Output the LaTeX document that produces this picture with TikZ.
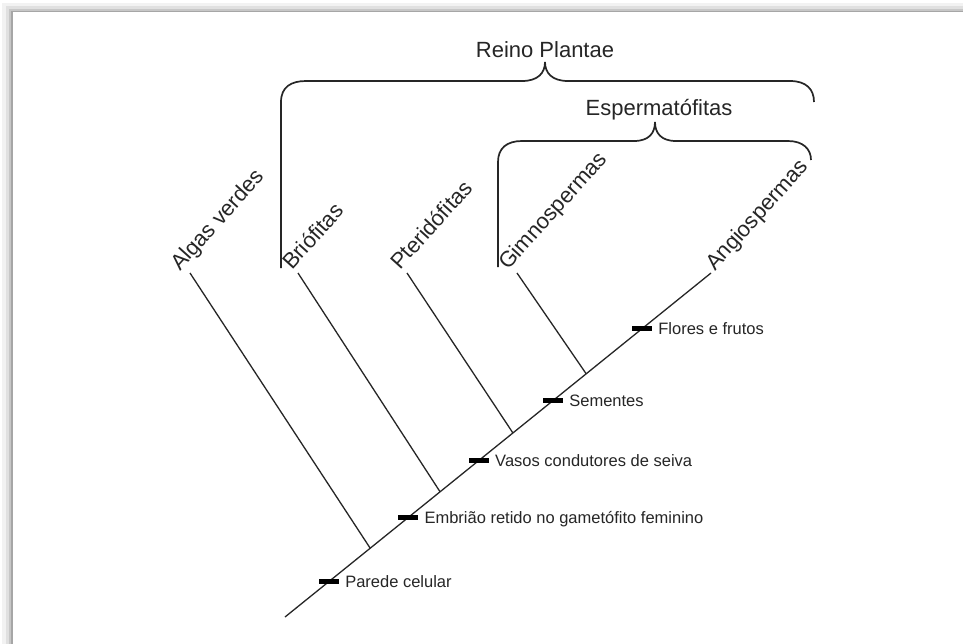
\documentclass[tikz,border=0pt]{standalone}
\usepackage{fontspec}
\setmainfont{Liberation Sans}
\usetikzlibrary{positioning,calc}

\begin{document}
\begin{tikzpicture}[x=1pt,y=-1pt,
    ramo/.style={line width=1.3pt,black!85},
    chave/.style={line width=1.7pt,black!85},
    marca/.style={fill=black,inner sep=0,minimum width=20pt,minimum height=5pt},
    carater/.style={font=\fontsize{16.5}{16.5}\selectfont,text=black!85,inner sep=0,text height=12pt,text depth=0pt},
    grupo/.style={font=\fontsize{22}{22}\selectfont,text=black!85,inner sep=0,rotate=48,anchor=base west},
    clado/.style={font=\fontsize{22}{22}\selectfont,text=black!85,inner sep=0,anchor=base}]
    \useasboundingbox (0,0) rectangle (963,643);
    % moldura
    \fill[black!5] (2,3) rectangle (980,660);
    \fill[black!12] (6,6) rectangle (980,660);
    \fill[black!22] (9,9) rectangle (980,660);
    \fill[black!35] (11,11) rectangle (980,660);
    \fill[white] (13,12) rectangle (980,660);
    % tronco
    \coordinate (raiz) at (285,617);
    \coordinate (topo) at (711,273);
    \draw[ramo] (raiz) -- (topo);
    \coordinate (n1) at ($(raiz)!0.2!(topo)$);
    \coordinate (n2) at ($(raiz)!0.364!(topo)$);
    \coordinate (n3) at ($(raiz)!0.535!(topo)$);
    \coordinate (n4) at ($(raiz)!0.707!(topo)$);
    % ramos
    \coordinate (pA) at (190,273);
    \coordinate (pB) at (298,273);
    \coordinate (pP) at (407,273);
    \coordinate (pG) at (517,273);
    \draw[ramo] (n1) -- (pA);
    \draw[ramo] (n2) -- (pB);
    \draw[ramo] (n3) -- (pP);
    \draw[ramo] (n4) -- (pG);
    \node[grupo] (algas) at ([shift={(-10,-1)}]pA) {Algas verdes};
    \node[grupo] (briof) at ([shift={(-6,-2)}]pB) {Briófitas};
    \node[grupo] (pterid) at ([shift={(-7,-2)}]pP) {Pteridófitas};
    \node[grupo] (gimno) at ([shift={(-9,-2)}]pG) {Gimnospermas};
    \node[grupo] (angio) at ([shift={(4,-1)}]topo) {Angiospermas};
    % caracteres
    \node[marca] (m1) at ($(raiz)!0.103!(topo)$) {};
    \node[carater,right=6pt of m1] (c1) {Parede celular};
    \node[marca] (m2) at ($(raiz)!0.289!(topo)$) {};
    \node[carater,right=6pt of m2] (c2) {Embrião retido no gametófito feminino};
    \node[marca] (m3) at ($(raiz)!0.455!(topo)$) {};
    \node[carater,right=6pt of m3] (c3) {Vasos condutores de seiva};
    \node[marca] (m4) at ($(raiz)!0.629!(topo)$) {};
    \node[carater,right=6pt of m4] (c4) {Sementes};
    \node[marca] (m5) at ($(raiz)!0.838!(topo)$) {};
    \node[carater,right=6pt of m5] (c5) {Flores e frutos};
    % chaves
    \node[clado] (plantae) at (545,57) {Reino Plantae};
    \coordinate (reino) at (545,62);
    \draw[chave] (281,268) -- (281,102) .. controls (281,87) and (291,81) .. (306,81) -- (522,81)
        .. controls (538,81) and (545,73) .. (reino) .. controls (545,73) and (552,81) .. (568,81)
        -- (790,81) .. controls (806,81) and (814,89) .. (814,102);
    \node[clado] (esperm) at (659,115) {Espermatófitas};
    \coordinate (esp) at (655,122);
    \draw[chave] (498,267) -- (498,162) .. controls (498,148) and (507,141) .. (522,141) -- (634,141)
        .. controls (649,141) and (655,133) .. (esp) .. controls (655,133) and (661,141) .. (676,141)
        -- (788,141) .. controls (803,141) and (811,149) .. (811,160);
\end{tikzpicture}
\end{document}
